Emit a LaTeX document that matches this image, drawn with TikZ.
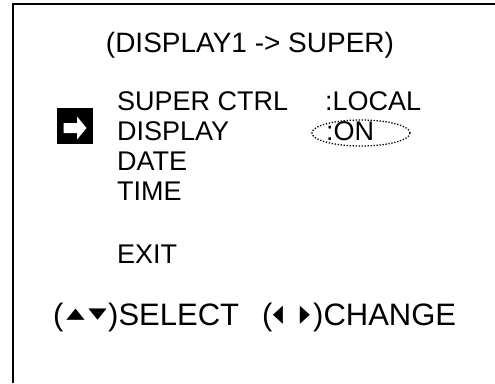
\documentclass[tikz,border=0pt]{standalone}
\usepackage{fontspec}
\setmainfont{Liberation Sans}
\newfontfamily\symfont{DejaVu Sans}
\usetikzlibrary{calc}
\tikzset{
	menutext/.style={anchor=base west, inner sep=0pt, font=\fontsize{27}{30}\selectfont},
	keytext/.style={anchor=base west, inner sep=0pt, font=\fontsize{31}{34}\selectfont},
	keysym/.style={inner sep=0pt, font=\symfont\fontsize{24}{26}\selectfont},
}
\def\flat#1{\scalebox{1}[0.62]{#1}}
\def\thin#1{\scalebox{0.55}[1]{#1}}

\begin{document}
\begin{tikzpicture}[x=1pt, y=-1pt]
		%%%%% START %%%%%
		\useasboundingbox (0, 0) rectangle (495, 383);
		\fill[white] (0, 0) rectangle (495, 383);
		
		\draw[line width=2pt] (13, 383) -- (13, 4) -- (495, 4);
		
		\node[menutext, anchor=base, font=\fontsize{28}{30}\selectfont] (title) at (250, 52) {(DISPLAY1 -> SUPER)};
		
		\node[menutext] (superctrl) at (117, 110) {SUPER CTRL};
		\node[menutext] (localval) at (325, 110) {:LOCAL};
		\node[menutext] (display) at (117, 140) {DISPLAY};
		\node[menutext] (onval) at (326, 140) {:ON};
		\node[menutext] (date) at (117, 170) {DATE};
		\node[menutext] (time) at (117, 200) {TIME};
		\node[menutext] (exit) at (117, 263) {EXIT};
		
		\draw[line width=1.3pt, dash pattern=on 1.3pt off 1.7pt] (361, 133) ellipse (49 and 13);
		
		% cursor
		\fill[black] (57, 108) rectangle (93, 144);
		\fill[white] (63.5, 123) -- (77, 123) -- (77, 116.5) -- (86.5, 128)
			-- (77, 139.5) -- (77, 133) -- (63.5, 133) -- cycle;
		
		% key line
		\node[keytext] (lpsel) at (53, 325) {(};
		\node[keysym] (upkey) at (75.5, 315) {\flat{▲}};
		\node[keysym] (downkey) at (97.5, 315) {\flat{▼}};
		\node[keytext] (select) at (108, 325) {)SELECT};
		\node[keytext] (lpchg) at (262, 325) {(};
		\node[keysym] (leftkey) at (278, 315) {\thin{◀}};
		\node[keysym] (rightkey) at (305, 315) {\thin{▶}};
		\node[keytext] (change) at (313, 325) {)CHANGE};
		%%%%% END %%%%%
\end{tikzpicture}
\end{document}
